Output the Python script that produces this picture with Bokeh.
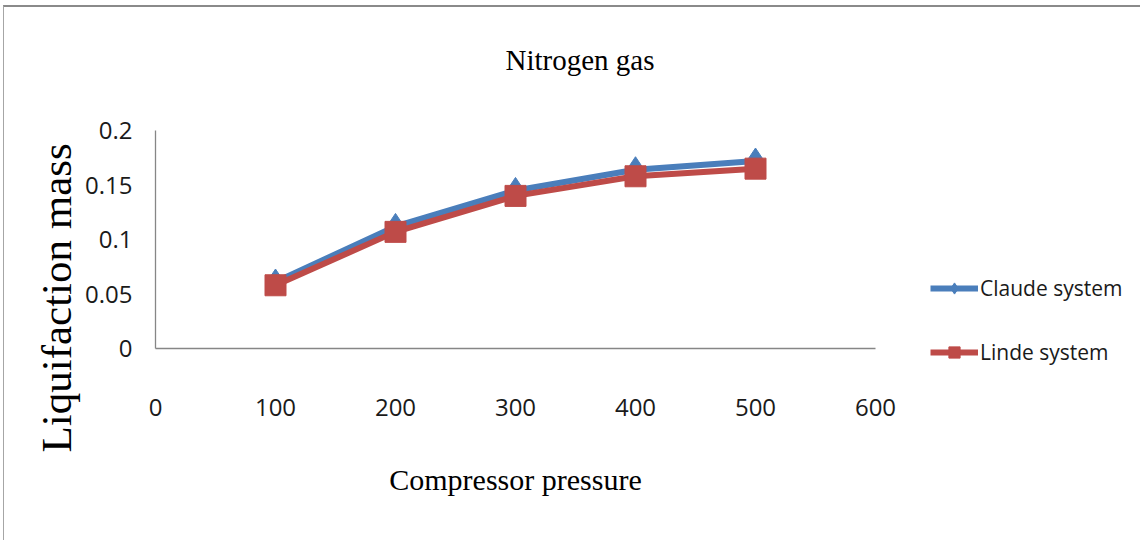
from bokeh.plotting import figure
from bokeh.models import (ColumnDataSource, FixedTicker, Legend, LegendItem, Title)
from bokeh.embed import file_html
from bokeh.resources import INLINE

# ---- data ----
pressure = [100, 200, 300, 400, 500]
claude_mass = [0.061, 0.112, 0.145, 0.164, 0.172]
linde_mass = [0.058, 0.107, 0.140, 0.158, 0.165]
x_ticks = [0, 100, 200, 300, 400, 500, 600]
y_ticks = [0, 0.05, 0.1, 0.15, 0.2]
y_tick_labels = ["0", "0.05", "0.1", "0.15", "0.2"]
series_names = ["Claude system", "Linde system"]
title_text = "Nitrogen gas"
x_title = "Compressor pressure"
y_title = "Liquifaction mass"

BLUE = "#4A7EBB"
RED = "#BE4B48"
TICK_FONT = "Open Sans"
SERIF = "Liberation Serif"

p = figure(frame_width=720, frame_height=218, x_range=(0, 600), y_range=(0, 0.2),
           output_backend="svg", toolbar_location=None,
           min_border_left=151, min_border_right=258,
           min_border_top=123, min_border_bottom=192,
           stylesheets=[":host { margin: 5px 0 0 3px; "
                        "border-top: 2px solid #8a8a8a; "
                        "border-left: 1px solid #a6a6a6; "
                        "border-right: 1px solid #a6a6a6; }"])
p.outline_line_color = None
p.xgrid.visible = False
p.ygrid.visible = False
p.background_fill_color = "white"
p.border_fill_color = "white"

src = ColumnDataSource(dict(x=pressure, c=claude_mass, l=linde_mass))

lc = p.line("x", "c", source=src, line_color=BLUE, line_width=6)
sc = p.scatter("x", "c", source=src, marker="diamond", size=26,
               fill_color=BLUE, line_color=BLUE)
ll = p.line("x", "l", source=src, line_color=RED, line_width=6)
sl = p.scatter("x", "l", source=src, marker="square", size=21,
               fill_color=RED, line_color=RED)

# axes
for ax in (p.xaxis[0], p.yaxis[0]):
    ax.axis_line_color = "#868686"
    ax.axis_line_width = 1.3
    ax.major_tick_line_color = None
    ax.minor_tick_line_color = None
    ax.major_tick_out = 0
    ax.major_tick_in = 0
    ax.minor_tick_out = 0
    ax.major_label_text_font = TICK_FONT
    ax.major_label_text_font_size = "24px"
    ax.major_label_text_color = "#1a1a1a"

p.xaxis.ticker = FixedTicker(ticks=x_ticks)
p.yaxis.ticker = FixedTicker(ticks=y_ticks)
p.yaxis.major_label_overrides = {t: s for t, s in zip(y_ticks, y_tick_labels)}
p.xaxis.major_label_standoff = 50
p.yaxis.major_label_standoff = 23

p.xaxis.axis_label = x_title
p.xaxis.axis_label_text_font = SERIF
p.xaxis.axis_label_text_font_style = "normal"
p.xaxis.axis_label_text_font_size = "30px"
p.xaxis.axis_label_text_color = "black"
p.xaxis.axis_label_standoff = 44

# chart title, lifted by a small spacer between it and the plot area
main_title = Title(text=title_text, text_font=SERIF, text_font_style="normal",
                   text_font_size="29px", text_color="black",
                   align="left", offset=350, vertical_align="top", standoff=70)
spacer = Title(text=" ", text_font_size="2px", standoff=14)
p.above = [spacer, main_title]

# y axis title (placed lower than frame centre as in the original)
p.add_layout(Title(text=y_title, align="left", offset=-104, standoff=6,
                   text_font=SERIF, text_font_style="normal",
                   text_font_size="43px", text_color="black"), "left")

legend = Legend(items=[LegendItem(label=series_names[0], renderers=[lc, sc]),
                       LegendItem(label=series_names[1], renderers=[ll, sl])],
                location=(55, -18), orientation="vertical",
                glyph_width=48, glyph_height=28, label_standoff=2,
                spacing=36, padding=0, margin=0,
                border_line_color=None, background_fill_alpha=0,
                label_text_font=TICK_FONT, label_text_font_size="21px",
                label_text_color="#1a1a1a")
p.add_layout(legend, "right")

open("out.html", "w").write(file_html(p, INLINE))
